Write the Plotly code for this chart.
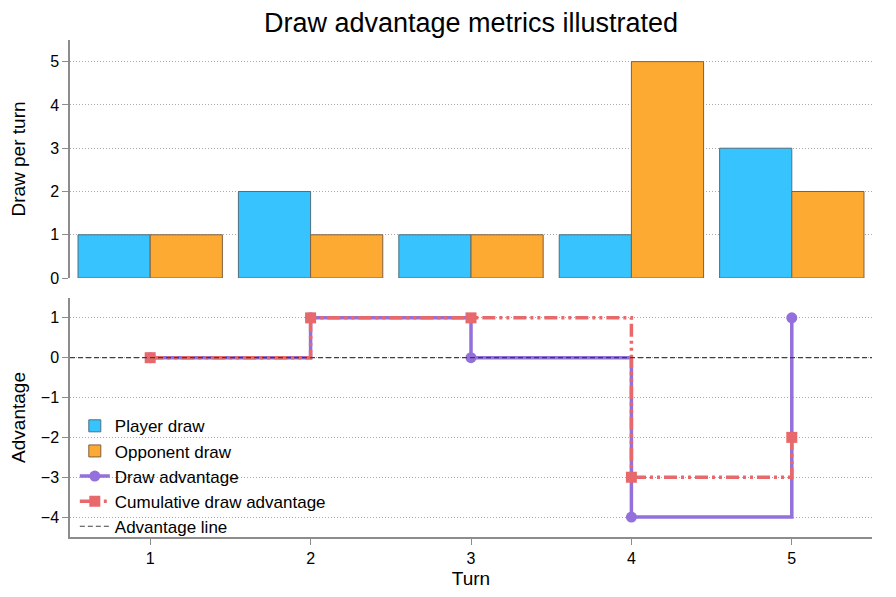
import plotly.graph_objects as go
from plotly.subplots import make_subplots

turns = [1, 2, 3, 4, 5]
player_draw = [1, 2, 1, 1, 3]
opponent_draw = [1, 1, 1, 5, 2]
draw_advantage = [0, 1, 0, -4, 1]
cumulative_advantage = [0, 1, 1, -3, -2]

font = "Liberation Sans, Arial, sans-serif"
grid = "#a8a8a8"
axis_col = "#8c8c8c"

fig = make_subplots(rows=2, cols=1, shared_xaxes=True, vertical_spacing=0.04)

fig.add_trace(go.Bar(x=turns, y=player_draw, name="Player draw",
                     marker=dict(color="#36C3FE", line=dict(color="#4d6f80", width=1))),
              row=1, col=1)
fig.add_trace(go.Bar(x=turns, y=opponent_draw, name="Opponent draw",
                     marker=dict(color="#FDAA33", line=dict(color="#806040", width=1))),
              row=1, col=1)

fig.add_trace(go.Scatter(x=turns, y=draw_advantage, name="Draw advantage",
                         mode="lines+markers", line_shape="hv",
                         line=dict(color="#9370DB", width=3.5),
                         marker=dict(symbol="circle", size=11, color="#9370DB")),
              row=2, col=1)
fig.add_trace(go.Scatter(x=turns, y=cumulative_advantage, name="Cumulative draw advantage",
                         mode="lines+markers", line_shape="hv",
                         line=dict(color="#E8696B", width=3.5, dash="13px,4px,3px,4px,3px,4px"),
                         marker=dict(symbol="square", size=11, color="#E8696B")),
              row=2, col=1)
fig.add_hline(y=0, line=dict(color="#404040", width=1.2, dash="5px,3px"), row=2, col=1)
# legend entry for the hline
fig.add_trace(go.Scatter(x=[None], y=[None], name="Advantage line", mode="lines",
                         line=dict(color="#404040", width=1.2, dash="5px,3px")),
              row=2, col=1)

# page body adds 8px offset, margins account for it
fig.update_layout(
    width=896, height=597,
    margin=dict(l=62, r=32, t=32, b=68),
    paper_bgcolor="white", plot_bgcolor="white",
    font=dict(family=font, size=16, color="black"),
    title=dict(text="Draw advantage metrics illustrated", x=0.5, xref="paper",
               xanchor="center", y=1 - 15 / 597, yanchor="middle", font=dict(size=27)),
    barmode="group", bargap=0.1, bargroupgap=0,
    legend=dict(x=0.006, y=0.259, xanchor="left", yanchor="top",
                bgcolor="rgba(0,0,0,0)", font=dict(size=17),
                tracegroupgap=0, itemwidth=30),
)

fig.update_xaxes(range=[0.5, 5.5], showgrid=False, zeroline=False, automargin=False)
fig.update_xaxes(showticklabels=False, ticks="", showline=False, row=1, col=1)
fig.update_xaxes(tickvals=turns, ticks="outside", ticklen=6, tickcolor=axis_col,
                 showline=True, linecolor=axis_col, linewidth=1.5,
                 title=dict(text="Turn", standoff=6), row=2, col=1)

fig.update_yaxes(showgrid=True, gridcolor=grid, griddash="1px,2px", gridwidth=1,
                 zeroline=False, showline=True, linecolor=axis_col, linewidth=1.5,
                 ticks="outside", ticklen=6, tickcolor=axis_col, dtick=1,
                 automargin=False)
fig.update_yaxes(range=[0, 5.5], domain=[0.521, 1.0],
                 title=dict(text="Draw per turn", standoff=25), row=1, col=1)
fig.update_yaxes(range=[-4.5, 1.5], domain=[0, 0.481],
                 title=dict(text="Advantage", standoff=25), row=2, col=1)

fig.write_html("out.html")
